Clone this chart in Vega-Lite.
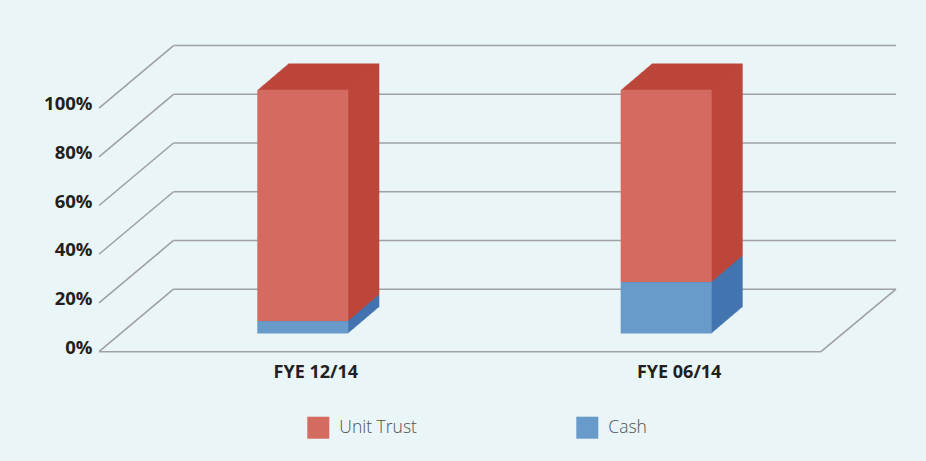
{
  "$schema": "https://vega.github.io/schema/vega-lite/v6.json",
  "width": 797,
  "height": 307,
  "autosize": {"type": "none"},
  "padding": {"left": 99, "top": 44.7, "right": 30, "bottom": 109.3},
  "background": "#EAF5F7",
  "config": {"view": {"stroke": null}, "font": "Open Sans"},
  "datasets": {
    "shares": [
      {"period": "FYE 12/14", "series": "Unit Trust", "value": 95},
      {"period": "FYE 12/14", "series": "Cash", "value": 5},
      {"period": "FYE 06/14", "series": "Unit Trust", "value": 79},
      {"period": "FYE 06/14", "series": "Cash", "value": 21}
    ],
    "levels": [{"level": 0}, {"level": 20}, {"level": 40}, {"level": 60}, {"level": 80}, {"level": 100}]
  },
  "layer": [
    {
      "data": {"name": "levels"},
      "mark": {"type": "rule", "color": "#9FA1A2", "strokeWidth": 1.6, "x2Offset": 74.5, "y2Offset": -62.5},
      "encoding": {
        "x": {"datum": 0, "type": "quantitative", "scale": {"domain": [0, 1]}, "axis": null},
        "x2": {"datum": 0},
        "y": {"field": "level", "type": "quantitative", "scale": {"domain": [0, 126], "nice": false, "zero": false},
              "axis": {"title": null, "values": [0, 20, 40, 60, 80, 100], "labelExpr": "datum.value + '%'", "domain": false, "ticks": false, "tickSize": 0, "grid": false, "labelPadding": 7, "labelOffset": -4.5, "labelFont": "Open Sans", "labelFontSize": 18.5, "labelFontWeight": "bold", "labelColor": "#231F20"}},
        "y2": {"field": "level"}
      }
    },
    {
      "data": {"name": "levels"},
      "mark": {"type": "rule", "color": "#9FA1A2", "strokeWidth": 1.6, "xOffset": 74.5, "yOffset": -62.5},
      "encoding": {
        "x": {"datum": 0, "type": "quantitative", "scale": {"domain": [0, 1]}, "axis": null},
        "x2": {"datum": 1},
        "y": {"field": "level", "type": "quantitative"}
      }
    },
    {
      "data": {"values": [{}]},
      "mark": {"type": "rule", "color": "#9FA1A2", "strokeWidth": 1.6, "x2Offset": -75},
      "encoding": {
        "x": {"datum": 0, "type": "quantitative", "scale": {"domain": [0, 1]}, "axis": null},
        "x2": {"datum": 1},
        "y": {"datum": 0, "type": "quantitative"}
      }
    },
    {
      "data": {"values": [{}]},
      "mark": {"type": "rule", "color": "#9FA1A2", "strokeWidth": 1.6, "xOffset": -75, "y2Offset": -62.5},
      "encoding": {
        "x": {"datum": 1, "type": "quantitative", "scale": {"domain": [0, 1]}, "axis": null},
        "x2": {"datum": 1},
        "y": {"datum": 0, "type": "quantitative"},
        "y2": {"datum": 0}
      }
    },
    {
      "data": {"name": "shares"},
      "encoding": {
        "x": {"field": "period", "type": "nominal", "sort": ["FYE 12/14", "FYE 06/14"], "scale": {"paddingInner": 0.7496, "paddingOuter": 0.4714, "align": 0.462}, "axis": null},
        "y": {"field": "value", "type": "quantitative", "stack": "zero"},
        "order": {"field": "series", "sort": "ascending"},
        "fill": {"field": "series", "type": "nominal", "scale": {"domain": ["Cash", "Unit Trust"], "range": ["#4374B0", "#BD463B"]}, "legend": null}
      },
      "layer": [
        {"mark": {"type": "bar", "xOffset": 31, "x2Offset": 31, "yOffset": -44.55, "y2Offset": -44.55}},
        {"mark": {"type": "bar", "xOffset": 30, "x2Offset": 30, "yOffset": -43.7, "y2Offset": -43.7}},
        {"mark": {"type": "bar", "xOffset": 29, "x2Offset": 29, "yOffset": -42.85, "y2Offset": -42.85}},
        {"mark": {"type": "bar", "xOffset": 28, "x2Offset": 28, "yOffset": -42.0, "y2Offset": -42.0}},
        {"mark": {"type": "bar", "xOffset": 27, "x2Offset": 27, "yOffset": -41.15, "y2Offset": -41.15}},
        {"mark": {"type": "bar", "xOffset": 26, "x2Offset": 26, "yOffset": -40.3, "y2Offset": -40.3}},
        {"mark": {"type": "bar", "xOffset": 25, "x2Offset": 25, "yOffset": -39.45, "y2Offset": -39.45}},
        {"mark": {"type": "bar", "xOffset": 24, "x2Offset": 24, "yOffset": -38.6, "y2Offset": -38.6}},
        {"mark": {"type": "bar", "xOffset": 23, "x2Offset": 23, "yOffset": -37.75, "y2Offset": -37.75}},
        {"mark": {"type": "bar", "xOffset": 22, "x2Offset": 22, "yOffset": -36.9, "y2Offset": -36.9}},
        {"mark": {"type": "bar", "xOffset": 21, "x2Offset": 21, "yOffset": -36.05, "y2Offset": -36.05}},
        {"mark": {"type": "bar", "xOffset": 20, "x2Offset": 20, "yOffset": -35.2, "y2Offset": -35.2}},
        {"mark": {"type": "bar", "xOffset": 19, "x2Offset": 19, "yOffset": -34.35, "y2Offset": -34.35}},
        {"mark": {"type": "bar", "xOffset": 18, "x2Offset": 18, "yOffset": -33.5, "y2Offset": -33.5}},
        {"mark": {"type": "bar", "xOffset": 17, "x2Offset": 17, "yOffset": -32.65, "y2Offset": -32.65}},
        {"mark": {"type": "bar", "xOffset": 16, "x2Offset": 16, "yOffset": -31.8, "y2Offset": -31.8}},
        {"mark": {"type": "bar", "xOffset": 15, "x2Offset": 15, "yOffset": -30.95, "y2Offset": -30.95}},
        {"mark": {"type": "bar", "xOffset": 14, "x2Offset": 14, "yOffset": -30.1, "y2Offset": -30.1}},
        {"mark": {"type": "bar", "xOffset": 13, "x2Offset": 13, "yOffset": -29.25, "y2Offset": -29.25}},
        {"mark": {"type": "bar", "xOffset": 12, "x2Offset": 12, "yOffset": -28.4, "y2Offset": -28.4}},
        {"mark": {"type": "bar", "xOffset": 11, "x2Offset": 11, "yOffset": -27.55, "y2Offset": -27.55}},
        {"mark": {"type": "bar", "xOffset": 10, "x2Offset": 10, "yOffset": -26.7, "y2Offset": -26.7}},
        {"mark": {"type": "bar", "xOffset": 9, "x2Offset": 9, "yOffset": -25.85, "y2Offset": -25.85}},
        {"mark": {"type": "bar", "xOffset": 8, "x2Offset": 8, "yOffset": -25.0, "y2Offset": -25.0}},
        {"mark": {"type": "bar", "xOffset": 7, "x2Offset": 7, "yOffset": -24.15, "y2Offset": -24.15}},
        {"mark": {"type": "bar", "xOffset": 6, "x2Offset": 6, "yOffset": -23.3, "y2Offset": -23.3}},
        {"mark": {"type": "bar", "xOffset": 5, "x2Offset": 5, "yOffset": -22.45, "y2Offset": -22.45}},
        {"mark": {"type": "bar", "xOffset": 4, "x2Offset": 4, "yOffset": -21.6, "y2Offset": -21.6}},
        {"mark": {"type": "bar", "xOffset": 3, "x2Offset": 3, "yOffset": -20.75, "y2Offset": -20.75}},
        {"mark": {"type": "bar", "xOffset": 2, "x2Offset": 2, "yOffset": -19.9, "y2Offset": -19.9}},
        {"mark": {"type": "bar", "xOffset": 1, "x2Offset": 1, "yOffset": -19.05, "y2Offset": -19.05}}
      ]
    },
    {
      "data": {"name": "shares"},
      "mark": {"type": "bar", "yOffset": -18.2, "y2Offset": -18.2},
      "encoding": {
        "x": {"field": "period", "type": "nominal", "sort": ["FYE 12/14", "FYE 06/14"], "scale": {"paddingInner": 0.7496, "paddingOuter": 0.4714, "align": 0.462},
              "axis": {"title": null, "domain": false, "ticks": false, "tickSize": 0, "labelPadding": 26, "labelBaseline": "alphabetic", "labelOffset": 13, "labelAngle": 0, "labelFont": "Open Sans", "labelFontSize": 18, "labelFontWeight": "bold", "labelColor": "#231F20"}},
        "y": {"field": "value", "type": "quantitative", "stack": "zero"},
        "order": {"field": "series", "sort": "ascending"},
        "color": {
          "field": "series", "type": "nominal",
          "scale": {"domain": ["Unit Trust", "Cash"], "range": ["#D46B60", "#689BCA"]},
          "legend": {"orient": "none", "legendX": 208.3, "legendY": 372, "direction": "horizontal", "title": null, "symbolType": "square", "symbolSize": 484, "symbolStrokeWidth": 0, "symbolOpacity": 1, "labelFont": "Open Sans", "labelFontSize": 17.5, "labelFontWeight": 300, "labelColor": "#505050", "labelOffset": 10, "columnPadding": 159, "padding": 0}
        }
      }
    }
  ],
  "resolve": {"scale": {"x": "independent"}}
}
